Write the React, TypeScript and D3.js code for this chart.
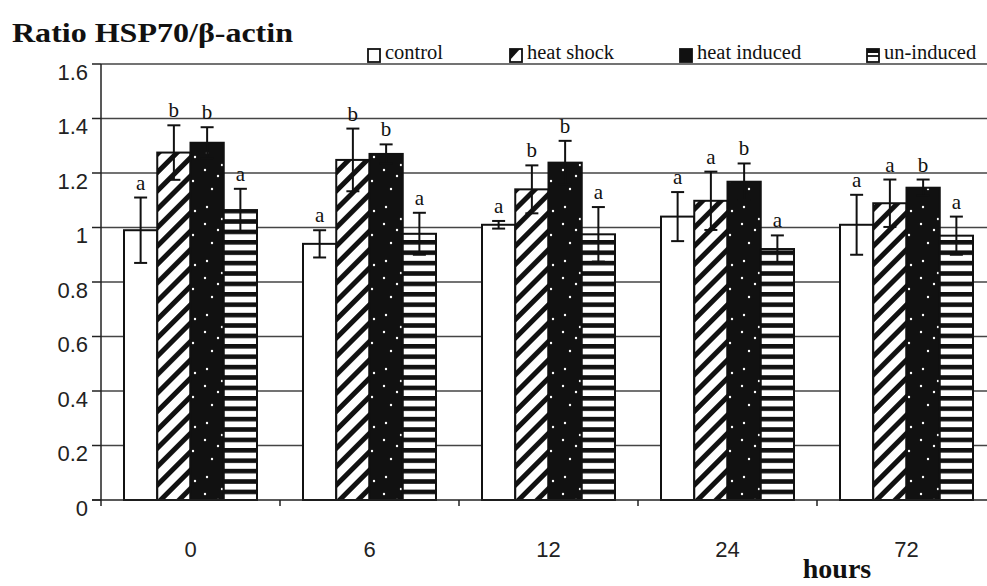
import React from 'react';
import * as d3 from 'd3';

const categories = ['0', '6', '12', '24', '72'];
const seriesNames = ['control', 'heat shock', 'heat induced', 'un-induced'];

const controlValues = [0.99, 0.94, 1.01, 1.04, 1.01];
const controlErrors = [0.12, 0.05, 0.014, 0.09, 0.11];
const controlLetters = ['a', 'a', 'a', 'a', 'a'];

const heatShockValues = [1.275, 1.248, 1.14, 1.098, 1.089];
const heatShockErrors = [0.1, 0.115, 0.088, 0.107, 0.087];
const heatShockLetters = ['b', 'b', 'b', 'a', 'a'];

const heatInducedValues = [1.311, 1.27, 1.238, 1.168, 1.146];
const heatInducedErrors = [0.057, 0.035, 0.08, 0.067, 0.03];
const heatInducedLetters = ['b', 'b', 'b', 'b', 'b'];

const unInducedValues = [1.064, 0.977, 0.975, 0.921, 0.97];
const unInducedErrors = [0.078, 0.077, 0.1, 0.05, 0.07];
const unInducedLetters = ['a', 'a', 'a', 'a', 'a'];

const yTicks = [0, 0.2, 0.4, 0.6, 0.8, 1, 1.2, 1.4, 1.6];

const titleText = 'Ratio HSP70/β-actin';
const xTitle = 'hours';

const SERIF = "'Liberation Serif', 'Times New Roman', serif";
const SANS = "'Liberation Sans', Arial, sans-serif";

const seriesFills = ['#ffffff', 'url(#hatch)', 'url(#speckle)', 'url(#hstripe)'];
const legendX = [368, 510, 680, 867];

export default function App() {
  const W = 987;
  const H = 586;
  const x = d3
    .scaleBand<string>()
    .domain(categories)
    .range([101, 996])
    .paddingInner(0.257)
    .paddingOuter(0.1285);
  const xs = d3.scaleBand<string>().domain(seriesNames).range([0, x.bandwidth()]);
  const y = d3.scaleLinear().domain([0, 1.6]).range([500, 64]);

  const series = [
    { name: seriesNames[0], values: controlValues, errors: controlErrors, letters: controlLetters, fill: seriesFills[0] },
    { name: seriesNames[1], values: heatShockValues, errors: heatShockErrors, letters: heatShockLetters, fill: seriesFills[1] },
    { name: seriesNames[2], values: heatInducedValues, errors: heatInducedErrors, letters: heatInducedLetters, fill: seriesFills[2] },
    { name: seriesNames[3], values: unInducedValues, errors: unInducedErrors, letters: unInducedLetters, fill: seriesFills[3] },
  ];

  const fmt = (d: number) => String(+d.toFixed(1));
  const halfGap = (x.step() * x.paddingInner()) / 2;
  const speckDots = [
    [5, 8], [22, 3], [31, 19], [12, 27], [26, 37], [7, 45], [33, 49], [18, 14],
  ];

  return (
    <svg
      width={W}
      height={H}
      viewBox={`0 0 ${W} ${H}`}
      style={{ position: 'absolute', left: 0, top: 0, background: '#fff' }}
    >
      <defs>
        <pattern id="hatch" patternUnits="userSpaceOnUse" width={13} height={13} patternTransform="rotate(45)">
          <rect x={0} y={0} width={13} height={13} fill="#fff" />
          <rect x={0} y={0} width={5} height={13} fill="#111" />
        </pattern>
        <pattern id="hstripe" patternUnits="userSpaceOnUse" x={0} y={500} width={10} height={10.4}>
          <rect x={0} y={0} width={10} height={10.4} fill="#fff" />
          <rect x={0} y={0} width={10} height={4.6} fill="#111" />
        </pattern>
        <pattern id="speckle" patternUnits="userSpaceOnUse" width={38} height={54}>
          <rect x={0} y={0} width={38} height={54} fill="#111" />
          {speckDots.map((p, i) => (
            <circle key={i} cx={p[0]} cy={p[1]} r={1.2} fill="#fff" />
          ))}
        </pattern>
      </defs>

      {/* title */}
      <text
        x={12}
        y={42}
        fontFamily={SERIF}
        fontWeight="bold"
        fontSize={28}
        fill="#111"
        textLength={281}
        lengthAdjust="spacingAndGlyphs"
      >
        {titleText}
      </text>

      {/* gridlines */}
      {yTicks
        .filter((t) => t > 0)
        .map((t) => (
          <line key={t} x1={101} x2={W} y1={y(t)} y2={y(t)} stroke="#444" strokeWidth={1.5} />
        ))}

      {/* y axis */}
      <line x1={101} x2={101} y1={y(1.6)} y2={506} stroke="#222" strokeWidth={1.5} />
      {yTicks.map((t) => (
        <g key={t}>
          <line x1={92} x2={101} y1={y(t)} y2={y(t)} stroke="#222" strokeWidth={1.5} />
          <text
            x={88}
            y={y(t) + 8}
            dominantBaseline="central"
            textAnchor="end"
            fontFamily={SANS}
            fontSize={22}
            fill="#222"
          >
            {fmt(t)}
          </text>
        </g>
      ))}

      {/* bars */}
      {categories.map((c, ci) => (
        <g key={c} transform={`translate(${x(c)},0)`}>
          {series.map((s) => {
            const bx = xs(s.name) as number;
            const bw = xs.bandwidth();
            const v = s.values[ci];
            return (
              <rect
                key={s.name}
                x={bx}
                y={y(v)}
                width={bw}
                height={y(0) - y(v)}
                fill={s.fill}
                stroke="#111"
                strokeWidth={2}
              />
            );
          })}
          {series.map((s) => {
            const bx = xs(s.name) as number;
            const bw = xs.bandwidth();
            const v = s.values[ci];
            const e = s.errors[ci];
            const cx = bx + bw / 2;
            return (
              <g key={s.name + 'e'} stroke="#111" strokeWidth={2}>
                <line x1={cx} x2={cx} y1={y(v + e)} y2={y(v - e)} />
                <line x1={cx - 6.5} x2={cx + 6.5} y1={y(v + e)} y2={y(v + e)} />
                <line x1={cx - 6.5} x2={cx + 6.5} y1={y(v - e)} y2={y(v - e)} />
                <text
                  x={cx}
                  y={y(v + e) - 8}
                  textAnchor="middle"
                  fontFamily={SERIF}
                  fontSize={21}
                  fill="#111"
                  stroke="none"
                >
                  {s.letters[ci]}
                </text>
              </g>
            );
          })}
        </g>
      ))}

      {/* x axis */}
      <line x1={92} x2={W} y1={y(0)} y2={y(0)} stroke="#222" strokeWidth={1.5} />
      {categories.slice(1).map((c) => (
        <line
          key={c}
          x1={(x(c) as number) - halfGap}
          x2={(x(c) as number) - halfGap}
          y1={y(0)}
          y2={y(0) + 6}
          stroke="#222"
          strokeWidth={1.5}
        />
      ))}
      {categories.map((c) => (
        <text
          key={c}
          x={(x(c) as number) + x.bandwidth() / 2}
          y={549}
          dominantBaseline="central"
          textAnchor="middle"
          fontFamily={SANS}
          fontSize={22}
          fill="#222"
        >
          {c}
        </text>
      ))}
      <text x={837} y={578} textAnchor="middle" fontFamily={SERIF} fontWeight="bold" fontSize={28} fill="#111">
        {xTitle}
      </text>

      {/* legend */}
      {seriesNames.map((n, i) => {
        const lx = legendX[i];
        return (
          <g key={n}>
            <rect x={lx} y={49} width={12} height={13} fill="#fff" stroke="#111" strokeWidth={1.8} />
            {i === 1 && <polygon points={`${lx},49 ${lx + 10},49 ${lx},60`} fill="#111" />}
            {i === 2 && <rect x={lx} y={49} width={12} height={13} fill="#111" />}
            {i === 3 && (
              <g>
                <rect x={lx} y={49} width={12} height={4} fill="#111" />
                <line x1={lx} x2={lx + 12} y1={56} y2={56} stroke="#111" strokeWidth={1.8} />
              </g>
            )}
            <text x={lx + 17} y={59} fontFamily={SERIF} fontSize={20.5} fill="#111">
              {n}
            </text>
          </g>
        );
      })}
    </svg>
  );
}
